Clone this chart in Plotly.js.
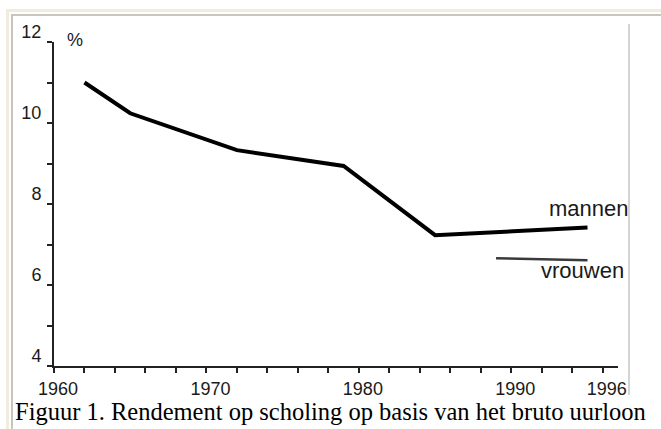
<!DOCTYPE html>
<html>
<head>
<meta charset="utf-8">
<script src="https://cdn.plot.ly/plotly-3.0.1.min.js"></script>
<style>
  html, body { margin:0; padding:0; background:#fff; }
  #wrap { position:relative; width:661px; height:429px; overflow:hidden; }
  #chart { position:absolute; left:0; top:0; width:661px; height:429px; }
  .f { position:absolute; pointer-events:none; }
</style>
</head>
<body>
<div id="wrap">
  <div id="chart"></div>
  <div class="f" style="left:629px; top:24px; width:32px; height:371px; background:#fff;"></div>
  <div class="f" style="left:628px; top:24px; width:2px; height:371px; background:#d4d4d4;"></div>
  <div class="f" style="left:6px; top:9px; width:655px; height:3px; background:#f1ece0;"></div>
  <div class="f" style="left:11px; top:14px; width:650px; height:2px; background:#c9c5bd;"></div>
  <div class="f" style="left:6px; top:9px; width:3px; height:420px; background:#f1ece0;"></div>
  <div class="f" style="left:11px; top:14px; width:2px; height:415px; background:#c9c5bd;"></div>
</div>
<script>
// Data
const yearsMannen = [1962, 1965, 1972, 1979, 1985, 1995];
const mannen      = [11.0, 10.24, 9.33, 8.94, 7.23, 7.42];
const yearsVrouwen = [1989, 1995];
const vrouwen      = [6.66, 6.61];
const xTickVals = [1960, 1970, 1980, 1990, 1996];
const xTickText = ['1960', '1970', '1980', '1990', '1996'];
const yTickVals = [4, 6, 8, 10, 12];
const yTickText = ['4', '6', '8', '10', '12'];
const caption = 'Figuur 1. Rendement op scholing op basis van het bruto uurloon';

const sans = 'Liberation Sans, Arial, sans-serif';
const traces = [
  { x: yearsMannen, y: mannen, mode: 'lines', line: { color: '#000', width: 4 }, name: 'mannen', hoverinfo: 'skip' },
  { x: yearsVrouwen, y: vrouwen, mode: 'lines', line: { color: '#3a3a3a', width: 2.5 }, name: 'vrouwen', hoverinfo: 'skip' }
];

const layout = {
  width: 661, height: 429,
  margin: { l: 54, r: 43, t: 42, b: 63 },
  paper_bgcolor: 'rgba(0,0,0,0)',
  plot_bgcolor: 'rgba(0,0,0,0)',
  showlegend: false,
  xaxis: {
    range: [1960, 1997], showgrid: false, zeroline: false,
    showline: true, linecolor: '#222', linewidth: 2,
    tickmode: 'array', tickvals: xTickVals, ticktext: xTickText,
    ticks: 'outside', ticklen: 5, tickwidth: 2, tickcolor: '#222',
    ticklabelshift: 4,
    minor: { tickmode: 'linear', tick0: 1960, dtick: 2, ticks: 'outside', ticklen: 5, tickwidth: 2, tickcolor: '#222' },
    tickfont: { family: sans, size: 18, color: '#1a1a1a' }
  },
  yaxis: {
    range: [4, 12], showgrid: false, zeroline: false,
    showline: true, linecolor: '#222', linewidth: 2,
    tickmode: 'array', tickvals: yTickVals, ticktext: yTickText,
    ticks: 'outside', ticklen: 5, tickwidth: 2, tickcolor: '#222',
    ticklabelshift: -10, ticklabelstandoff: 2,
    minor: { tickmode: 'linear', tick0: 4, dtick: 1, ticks: 'outside', ticklen: 5, tickwidth: 2, tickcolor: '#222' },
    tickfont: { family: sans, size: 18, color: '#1a1a1a' }
  },
  annotations: [
    { text: '%', xref: 'paper', yref: 'paper', x: (75 - 54) / 564, y: (366 - 40) / 324,
      xanchor: 'center', yanchor: 'middle', showarrow: false, font: { family: sans, size: 18, color: '#1a1a1a' } },
    { text: 'mannen', xref: 'x', yref: 'y', x: 1995.1, y: 7.88, xanchor: 'center', yanchor: 'middle',
      showarrow: false, font: { family: sans, size: 22, color: '#1a1a1a' } },
    { text: 'vrouwen', xref: 'x', yref: 'y', x: 1994.7, y: 6.37, xanchor: 'center', yanchor: 'middle',
      showarrow: false, font: { family: sans, size: 22, color: '#1a1a1a' } },
    { text: caption, xref: 'paper', yref: 'paper', x: (13 - 54) / 564, y: (366 - 411) / 324,
      xanchor: 'left', yanchor: 'middle', showarrow: false, font: { family: 'Liberation Serif, Times New Roman, serif', size: 24.5, color: '#000' } }
  ]
};

Plotly.newPlot('chart', traces, layout, { staticPlot: true, displayModeBar: false });
</script>
</body>
</html>
